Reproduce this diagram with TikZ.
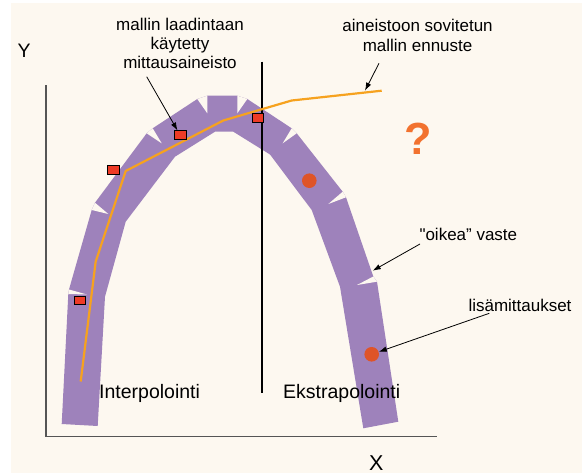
\documentclass[tikz,border=0pt]{standalone}
\usepackage{fontspec}
\setmainfont{Liberation Sans}[Ligatures=TeXOff]
\usetikzlibrary{arrows.meta}
\definecolor{bgc}{HTML}{FDF8F0}
\definecolor{bandc}{HTML}{9E82BB}
\definecolor{linec}{HTML}{F6A21F}
\definecolor{sqc}{HTML}{EE3B26}
\definecolor{dotc}{HTML}{DF5428}
\definecolor{qc}{HTML}{F2722F}
\definecolor{axc}{HTML}{555555}
\begin{document}
\begin{tikzpicture}[x=1pt,y=-1pt,
  band/.style={fill=bandc},
  wedge/.style={fill=bgc},
  axisline/.style={draw=axc,line width=1.1pt},
  divider/.style={draw=black,line width=1.8pt},
  model/.style={draw=linec,line width=2.2pt,line join=round},
  sq/.style={rectangle,draw=black,line width=0.8pt,fill=sqc,minimum width=11.5pt,minimum height=8.7pt,inner sep=0pt},
  dot/.style={circle,fill=dotc,minimum size=14.6pt,inner sep=0pt},
  lbl/.style={inner sep=0pt,font=\fontsize{17}{19.3}\selectfont,text=black},
  biglbl/.style={inner sep=0pt,font=\fontsize{19.5}{22}\selectfont,text=black},
  arr/.style={draw=black,line width=0.8pt,-{Latex[length=8pt,width=5.5pt]}}
]
\useasboundingbox (0,0) rectangle (582,474);
\fill[white] (0,0) rectangle (582,474);
\fill[bgc] (11,3.3) rectangle (582,473.3);

% band
\fill[band] (61.7,424) -- (68.3,294) -- (69,289.5) -- (91.7,210) -- (95,202.7)
  -- (146.7,133.3) -- (152.7,128.3) -- (197.3,99) -- (207.3,95.7) -- (237.3,95.7)
  -- (247.3,99) -- (291.7,128.3) -- (296.7,133.3) -- (342.7,191.7) -- (346,197.3)
  -- (373.3,276.5) -- (377,281.7) -- (398.3,421.7) -- (363.3,428.3) -- (340,286.7)
  -- (311.7,210) -- (270,154.5) -- (233.3,131.7) -- (215,131.7) -- (175,156.7)
  -- (125.7,221.7) -- (105,296.7) -- (97.7,426) -- cycle;
% wedges between segments
\fill[wedge] (69,289.5) -- (68.3,294) -- (87,294.5) -- cycle;
\fill[wedge] (91.7,210) -- (95,202.7) -- (108.3,214) -- cycle;
\fill[wedge] (146.7,133.3) -- (152.7,128.3) -- (161.7,143.3) -- cycle;
\fill[wedge] (197.3,99) -- (207.3,95.7) -- (207.3,113.3) -- cycle;
\fill[wedge] (237.3,95.7) -- (247.3,99) -- (237.3,113.3) -- cycle;
\fill[wedge] (291.7,128.3) -- (296.7,133.3) -- (282.7,143.3) -- cycle;
\fill[wedge] (342.7,191.7) -- (346,197.3) -- (328.3,204) -- cycle;
\fill[wedge] (373.3,276.5) -- (377,281.7) -- (357,285) -- cycle;

% axes
\coordinate (ytop) at (46,85);
\coordinate (orig) at (46,436.7);
\coordinate (xend) at (436.7,436.7);
\draw[axisline] (ytop) -- (orig) -- (xend);

% divider
\coordinate (dtop) at (262.2,61.7);
\coordinate (dbot) at (262.2,393.3);
\draw[divider] (dtop) -- (dbot);

% model line
\coordinate (p1) at (80.7,381.5);
\coordinate (p2) at (95.7,261.5);
\coordinate (p3) at (125.7,171);
\coordinate (p4) at (223.3,120.5);
\coordinate (p5) at (291.7,100.5);
\coordinate (p6) at (381.7,90.7);
\draw[model] (p1) -- (p2) -- (p3) -- (p4) -- (p5) -- (p6);

% measured data
\node[sq] (s1) at (113.2,170) {};
\node[sq] (s2) at (180.2,135.2) {};
\node[sq] (s3) at (258,117.8) {};
\node[sq] (s4) at (80,300.3) {};

% additional measurements
\node[dot] (c1) at (309.3,180.7) {};
\node[dot] (c2) at (371.7,354.3) {};

% texts
\node[biglbl,anchor=base] (ylab) at (24.2,57.3) {Y};
\node[inner sep=0pt,font=\fontsize{21.5}{24}\selectfont,anchor=base] (xlab) at (376.2,470.8) {X};
\node[lbl,anchor=north,align=center] (t1) at (180,17.6) {mallin laadintaan\\käytetty\\mittausaineisto};
\node[lbl,anchor=north,align=center] (t2) at (417.6,19.3) {aineistoon sovitetun\\mallin ennuste};
\node[lbl,anchor=base west] (t3) at (419.3,240) {"oikea” vaste};
\node[lbl,anchor=base west] (t4) at (468.3,311.7) {lisämittaukset};
\node[biglbl,anchor=base west] (t5) at (99,398.3) {Interpolointi};
\node[biglbl,anchor=base west] (t6) at (283,398.3) {Ekstrapolointi};
\node[inner sep=0pt,font=\fontsize{45}{50}\selectfont\bfseries,text=qc,anchor=base] (q) at (418.3,154) {?};

% arrows
\coordinate (a1s) at (146.7,76.7);
\draw[arr] (a1s) -- (s2);
\coordinate (a2s) at (379,63.3);
\coordinate (a2e) at (365,90.7);
\draw[arr] (a2s) -- (a2e);
\coordinate (a3s) at (420,244);
\coordinate (a3e) at (372.7,270.7);
\draw[arr] (a3s) -- (a3e);
\coordinate (a4s) at (489.3,313.3);
\draw[arr] (a4s) -- (c2);
\end{tikzpicture}
\end{document}
